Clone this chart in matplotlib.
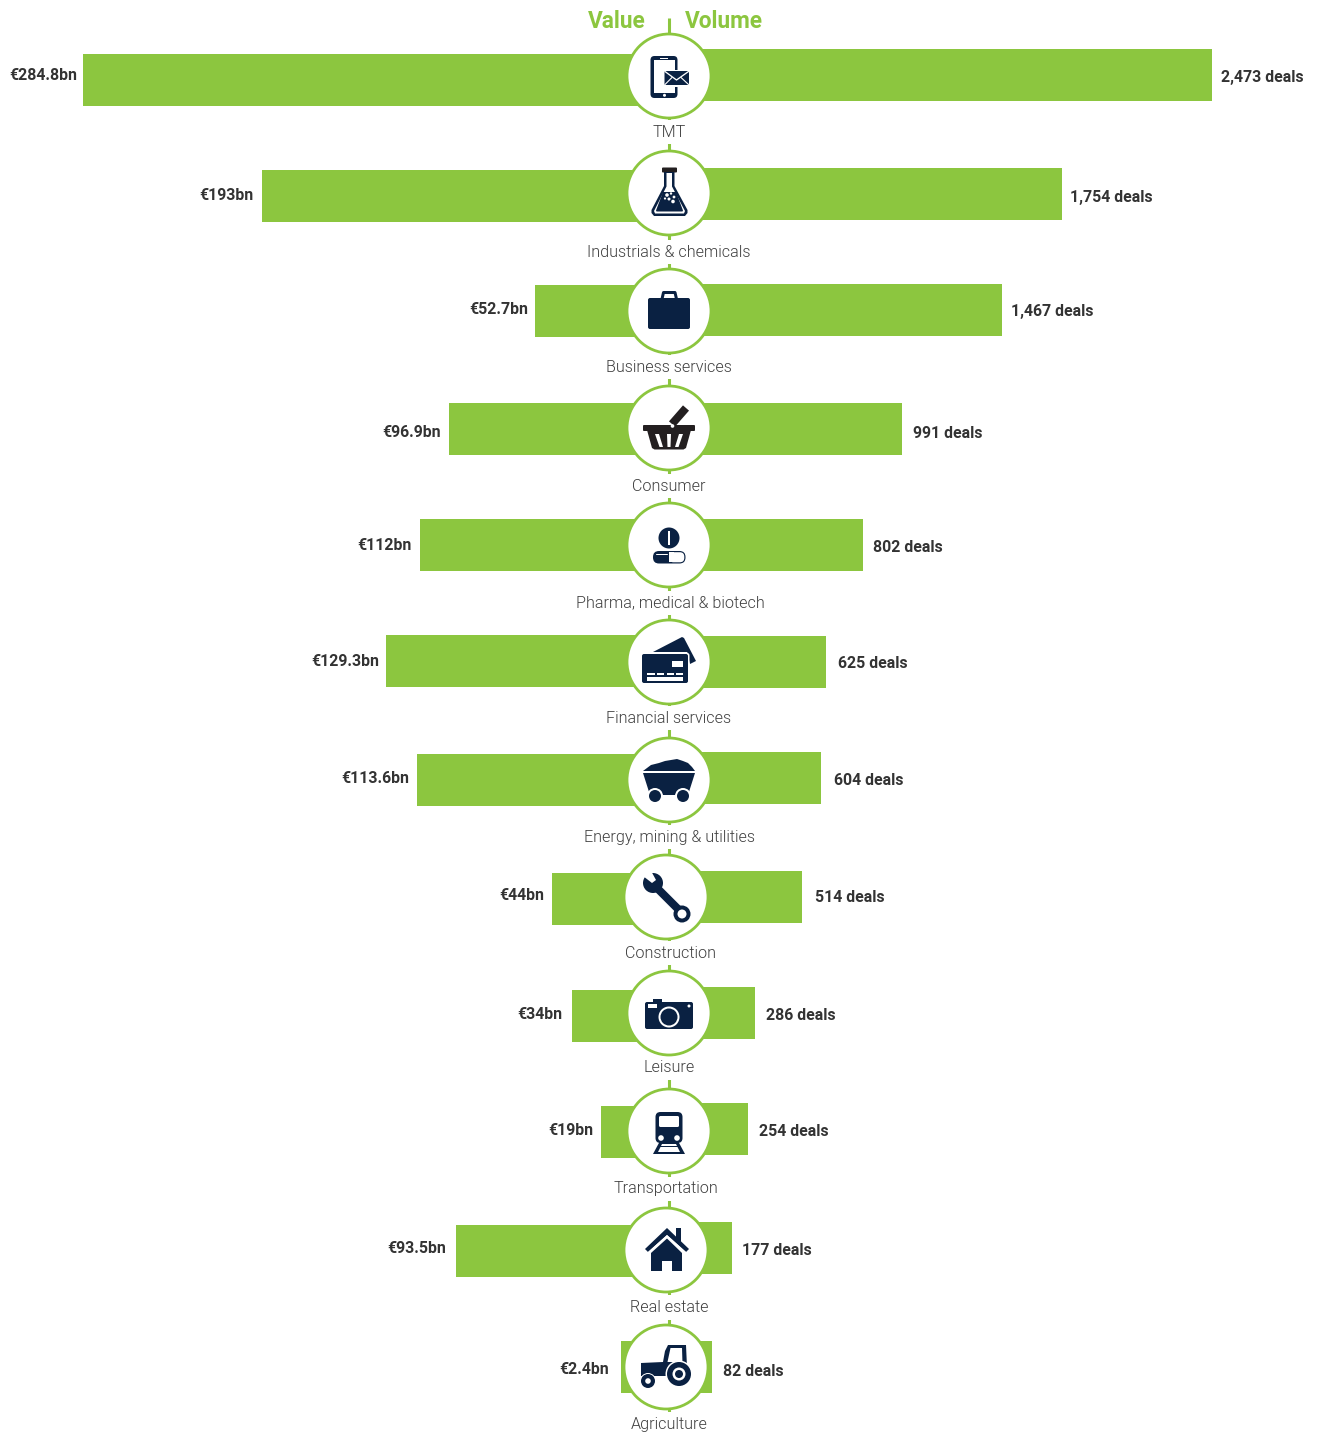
import numpy as np
import matplotlib
matplotlib.use("Agg")
import matplotlib.pyplot as plt
from matplotlib.patches import Circle, Rectangle, Polygon, FancyBboxPatch

# Data
sectors = ["TMT", "Industrials & chemicals", "Business services", "Consumer",
           "Pharma, medical & biotech", "Financial services",
           "Energy, mining & utilities", "Construction", "Leisure",
           "Transportation", "Real estate", "Agriculture"]
value_bn = [284.8, 193, 52.7, 96.9, 112, 129.3, 113.6, 44, 34, 19, 93.5, 2.4]
value_labels = ["€284.8bn", "€193bn", "€52.7bn", "€96.9bn", "€112bn", "€129.3bn",
                "€113.6bn", "€44bn", "€34bn", "€19bn", "€93.5bn", "€2.4bn"]
deals = [2473, 1754, 1467, 991, 802, 625, 604, 514, 286, 254, 177, 82]
deal_labels = ["2,473 deals", "1,754 deals", "1,467 deals", "991 deals", "802 deals",
               "625 deals", "604 deals", "514 deals", "286 deals", "254 deals",
               "177 deals", "82 deals"]

# Layout, in pixels of the 1318x1433 canvas
W, H = 1318, 1433
left_y = [80, 196, 311, 429, 545, 661, 780, 899, 1016, 1132, 1251, 1367]
right_y = [75, 194, 310, 429, 545, 662, 778, 897, 1013, 1129, 1248, 1367]
circle_x = [669, 669, 669, 669, 669, 669, 669, 666, 669, 669, 666, 666]
circle_y = [76, 193, 311, 428, 545, 662, 780, 897, 1013, 1131, 1250, 1367]
sector_x = [669, 669, 669, 669, 670.5, 669, 669, 671, 669, 666, 669, 669]
sector_y = [132, 252, 367, 486, 603, 718, 837, 953, 1067.5, 1189, 1307.5, 1424.5]
vlabel_x = [77, 254, 528, 441, 412, 379, 409, 544, 562, 593, 446, 609]
vlabel_y = [75.5, 195.5, 309.5, 432.5, 545.5, 661.5, 778.5, 895.5, 1014.5, 1130.5, 1248.5, 1369.5]
dlabel_x = [1221, 1070, 1011, 913, 873, 838, 834, 815, 766, 759, 742, 723]
dlabel_y = [77.5, 197.5, 311.5, 433.5, 547.5, 663.5, 780.5, 897.5, 1015.5, 1131.5, 1250.5, 1371.5]

GREEN = "#8CC63F"
NAVY = "#0A2142"
BLACK = "#231F20"
BAR_H = 52
R = 42

plt.rcParams["font.family"] = ["Roboto", "DejaVu Sans"]
fig = plt.figure(figsize=(W / 100, H / 100), dpi=100)

# Left bars: zero sits under the circle, 1.949 px per EUR bn
x0_l, k_l = 638, 1.949
ax_l = fig.add_axes([0, 0, x0_l / W, 1])
ax_l.set_xlim(x0_l / k_l, 0)
ax_l.set_ylim(H, 0)
# the smallest bar is drawn wider than its value so it shows past the circle
ax_l.barh(left_y, np.maximum(value_bn, 8.7), height=BAR_H, color=GREEN)
ax_l.axis("off")

# Right bars: 0.2091 px per deal
x0_r, k_r = 695, 0.2091
ax_r = fig.add_axes([x0_r / W, 0, (W - x0_r) / W, 1])
ax_r.set_xlim(0, (W - x0_r) / k_r)
ax_r.set_ylim(H, 0)
ax_r.barh(right_y, deals, height=BAR_H, color=GREEN)
ax_r.axis("off")

# Overlay in pixel coordinates for the spine, circles, icons and text
ax = fig.add_axes([0, 0, 1, 1])
ax.set_xlim(0, W)
ax.set_ylim(H, 0)
ax.axis("off")
ax.patch.set_alpha(0)


def rect(cx, cy, x0, y0, x1, y1, color=NAVY, z=5):
    ax.add_patch(Rectangle((cx + x0, cy + y0), x1 - x0, y1 - y0, fc=color, ec="none", zorder=z))


def rrect(cx, cy, x0, y0, x1, y1, r=2, color=NAVY, z=5):
    ax.add_patch(FancyBboxPatch((cx + x0 + r, cy + y0 + r), x1 - x0 - 2 * r, y1 - y0 - 2 * r,
                                boxstyle="round,pad=%g,rounding_size=%g" % (r, r),
                                fc=color, ec="none", zorder=z))


def poly(cx, cy, pts, color=NAVY, z=5):
    pts = [(cx + a, cy + b) for a, b in pts]
    ax.add_patch(Polygon(pts, closed=True, fc=color, ec="none", zorder=z))


def disc(cx, cy, x, y, r, color=NAVY, z=5):
    ax.add_patch(Circle((cx + x, cy + y), r, fc=color, ec="none", zorder=z))


def stroke(cx, cy, xs, ys, lw, color=NAVY, z=5, cap="round"):
    ax.plot(np.array(xs) + cx, np.array(ys) + cy, color=color, lw=lw * 0.72,
            solid_capstyle=cap, solid_joinstyle="round", zorder=z)


def phone(cx, cy):
    rrect(cx, cy, -18.5, -20, 8.5, 22, r=4)
    rect(cx, cy, -15.5, -16, 5.5, 16.5, "white", 6)
    rect(cx, cy, -9, -18, -1, -17, "white", 6)
    disc(cx, cy, -4.5, 19.3, 1.5, "white", 6)
    rect(cx, cy, -6, -6.5, 21, 10.5, "white", 6)
    rrect(cx, cy, -4.5, -5, 20, 9, r=1, z=7)
    stroke(cx, cy, [-4, 7.5, 19.5], [-4.5, 4, -4.5], 1.3, "white", 8)
    stroke(cx, cy, [-4, 3], [8.5, 1.5], 1.1, "white", 8)
    stroke(cx, cy, [19.5, 12], [8.5, 1.5], 1.1, "white", 8)


def flask(cx, cy):
    rrect(cx, cy, -7, -25.5, 8, -20.5, r=1, color=BLACK)
    poly(cx, cy, [(-5, -21), (5.5, -21), (5.5, -7), (18.5, 17), (18.5, 20), (16, 23),
                  (-15, 23), (-17.5, 20), (-17.5, 17), (-5, -7)])
    poly(cx, cy, [(-2.5, -20), (3, -20), (3, -6.5), (16, 18), (15, 20.5), (-14, 20.5),
                  (-15, 18), (-2.5, -6.5)], "white", 6)
    poly(cx, cy, [(-6, -1), (7, -1), (14, 17.5), (13.5, 18.5), (-12.5, 18.5), (-13, 17.5)], NAVY, 7)
    for x, y, r in [(-2, 2, 1.8), (2, 0.5, 1.2), (5, 4, 1.4), (0, 6, 1.5), (4, 8.5, 1.8), (-4, 5.5, 1.1)]:
        disc(cx, cy, x, y, r, "white", 8)


def briefcase(cx, cy):
    rrect(cx, cy, -21, -13, 21, 18, r=2)
    stroke(cx, cy, [-7, -5.5, 6, 7.5], [-12, -18.5, -18.5, -12], 3)


def basket(cx, cy):
    stroke(cx, cy, [3, 17], [-4, -20], 8, BLACK, cap="butt")
    rrect(cx, cy, -26, -3, 26, 3, r=1, color=BLACK)
    poly(cx, cy, [(-22, 2), (22, 2), (17, 20), (14.5, 21.5), (-14.5, 21.5), (-17, 20)], BLACK)
    poly(cx, cy, [(-14, 6), (-10, 6), (-6, 19), (-9.5, 19)], "white", 6)
    poly(cx, cy, [(-2, 6), (2, 6), (1.5, 19), (-1.5, 19)], "white", 6)
    poly(cx, cy, [(10, 6), (14, 6), (9.5, 19), (6, 19)], "white", 6)
    disc(cx, cy, 3.5, -2, 1.8, "white", 7)


def pill(cx, cy):
    disc(cx, cy, 0, -7, 10.5)
    rect(cx, cy, -1, -14, 1, 0, "white", 6)
    rrect(cx, cy, -16, 6, 16.5, 18.5, r=6)
    rrect(cx, cy, 0, 7.2, 15.3, 17.3, r=4.5, color="white", z=6)
    rect(cx, cy, 0, 7.2, 5, 17.3, "white", 6)
    stroke(cx, cy, [-13, -2], [8.5, 8.5], 1, "white", 6)


def card(cx, cy):
    poly(cx, cy, [(-16, -10), (13, -25), (15, -24), (27, -1), (21, 2), (18, -10)])
    rrect(cx, cy, -28.5, -9.5, 20.5, 22.5, r=3, color="white", z=6)
    rrect(cx, cy, -27, -8, 19, 21, r=2, z=7)
    rect(cx, cy, 3, -1, 14, 5, "white", 8)
    for a, b in [(-22, -14), (-12, -5), (-2, 5), (7, 14)]:
        rect(cx, cy, a, 11, b, 13, "white", 8)
    rect(cx, cy, -22, 15, 14, 18.5, "white", 8)


def minecart(cx, cy):
    poly(cx, cy, [(-26, -9), (-22, -12), (-18, -15), (-10, -17), (-4, -19), (2, -20), (8, -21),
                  (14, -19), (19, -17), (23, -13), (26, -9)])
    poly(cx, cy, [(-26, -7), (26, -7), (19, 15), (-19, 15)])
    for x in (-14, 14):
        disc(cx, cy, x, 16, 8, "white", 6)
        disc(cx, cy, x, 16, 6, NAVY, 7)


def wrench(cx, cy):
    stroke(cx, cy, [-10, 14], [-10, 14], 8)
    disc(cx, cy, -13, -14, 10)
    poly(cx, cy, [(-23, -21), (-16, -28), (-10, -17), (-14, -14)], "white", 6)
    disc(cx, cy, 16, 17, 8.5, z=6)
    disc(cx, cy, 16, 17, 4.5, "white", 7)


def camera(cx, cy):
    rrect(cx, cy, -24, -11, 24, 16, r=2)
    rect(cx, cy, -16, -14, -7, -10)
    rect(cx, cy, -21, -9, -12, -5, "white", 6)
    disc(cx, cy, 20, -7, 1.5, "white", 6)
    disc(cx, cy, 0, 4, 10.5, "white", 6)
    disc(cx, cy, 0, 4, 8.5, NAVY, 7)


def train(cx, cy):
    poly(cx, cy, [(-9, 10), (9, 10), (16, 23), (-16, 23)])
    poly(cx, cy, [(-7, 13), (7, 13), (11, 21), (-11, 21)], "white", 6)
    rect(cx, cy, -10, 14.5, 10, 15.5, NAVY, 7)
    rrect(cx, cy, -13.5, -19, 13.5, 12, r=5, z=8)
    rrect(cx, cy, -10, -15, 10, -4, r=1.5, color="white", z=9)
    disc(cx, cy, -8, 7, 2.8, "white", 9)
    disc(cx, cy, 8, 7, 2.8, "white", 9)


def house(cx, cy):
    rect(cx, cy, 10, -22, 15, -8)
    poly(cx, cy, [(-21, -1), (1, -22), (23, -1), (20, 2), (1, -15), (-18, 2)], z=6)
    poly(cx, cy, [(-18, 2), (1, -15), (20, 2)], "white", 6)
    poly(cx, cy, [(-15, 3), (1, -11.5), (16, 3), (16, 21), (-15, 21)], z=7)
    rect(cx, cy, -4, 11, 6, 21, "white", 8)


def tractor(cx, cy):
    poly(cx, cy, [(-25, -4), (-3, -5), (-1, -16), (2, -22), (20, -22), (21, 0), (0, 9), (-25, 9)])
    poly(cx, cy, [(1.5, -5), (4.5, -19), (16, -19), (16.5, -3), (10, -5)], "white", 6)
    disc(cx, cy, 13, 7, 13.5, "white", 7)
    disc(cx, cy, 13, 7, 12, NAVY, 8)
    disc(cx, cy, 13, 7, 6.5, "white", 9)
    disc(cx, cy, 13, 7, 4, NAVY, 10)
    disc(cx, cy, -18, 14, 8, "white", 7)
    disc(cx, cy, -18, 14, 7, NAVY, 8)
    disc(cx, cy, -18, 14, 2.8, "white", 9)


icons = [phone, flask, briefcase, basket, pill, card, minecart, wrench, camera, train, house, tractor]

# Central spine; the sector labels mask it with a white box
ax.plot([669, 669], [18, 1414], color=GREEN, lw=2.2, zorder=1, solid_capstyle="butt")

for i, name in enumerate(sectors):
    ax.add_patch(Circle((circle_x[i], circle_y[i]), R, fc="white", ec=GREEN, lw=2, zorder=3))
    icons[i](circle_x[i], circle_y[i])
    ax.text(sector_x[i], sector_y[i], name, ha="center", va="center", fontsize=11.6,
            fontweight=300, color="#3F3F3F", zorder=2,
            bbox=dict(fc="white", ec="none", pad=3.5))
    ax.text(vlabel_x[i], vlabel_y[i], value_labels[i], ha="right", va="center",
            fontsize=11.4, fontweight="bold", color="#333333")
    ax.text(dlabel_x[i], dlabel_y[i], deal_labels[i], ha="left", va="center",
            fontsize=11.4, fontweight="bold", color="#333333")

ax.text(646, 21, "Value", ha="right", va="center", fontsize=16.3, fontweight="bold", color=GREEN)
ax.text(685, 21, "Volume", ha="left", va="center", fontsize=16.3, fontweight="bold", color=GREEN)

fig.savefig("out.png", dpi=100)
